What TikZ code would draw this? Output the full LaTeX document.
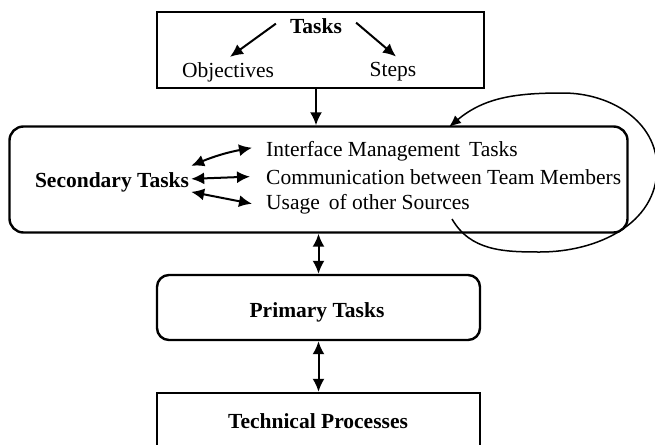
\documentclass[tikz,border=0pt]{standalone}
\usepackage{fontspec}
\setmainfont{Liberation Serif}
\usetikzlibrary{arrows.meta}
\tikzset{
  box/.style={draw, line width=2.4pt, inner sep=0pt},
  rbox/.style={box, rounded corners=14pt},
  txt/.style={inner sep=0pt, font=\fontsize{21.5}{24}\selectfont},
  btxt/.style={inner sep=0pt, font=\fontsize{21.5}{24}\selectfont\bfseries},
  arr/.style={-{Latex[length=13pt,width=12pt]}, line width=2pt},
  dbl/.style={{Latex[length=13pt,width=12pt]}-{Latex[length=13pt,width=12pt]}, line width=2pt},
  loopline/.style={-{Latex[length=12pt,width=10pt]}, line width=1.5pt},
}
\begin{document}
\begin{tikzpicture}[x=1pt,y=-1pt]
\useasboundingbox (0,0) rectangle (655,444);
\clip (0,0) rectangle (655,444);
% boxes
\node[box, minimum width=327pt, minimum height=76pt] (taskbox) at (320.5,50) {};
\node[rbox, minimum width=618pt, minimum height=106pt] (secbox) at (318.5,179.5) {};
\node[rbox, rounded corners=12pt, minimum width=323pt, minimum height=65pt] (primbox) at (318.5,307.5) {};
\node[box, minimum width=323pt, minimum height=54pt] (techbox) at (318.5,420) {};
% texts
\node[btxt, anchor=base] (tasks) at (316,34) {Tasks};
\node[txt, anchor=base] (obj) at (228,77) {Objectives};
\node[txt, anchor=base] (steps) at (393,76) {Steps};
\node[btxt, anchor=base] (sec) at (112,187) {Secondary Tasks};
\node[txt, anchor=base west] (item1) at (266,156) {Interface Management\, Tasks};
\node[txt, anchor=base west] (item2) at (266,184) {Communication between Team Members};
\node[txt, anchor=base west] (item3) at (266,209) {Usage\, of other Sources};
\node[btxt, anchor=base] (prim) at (317,317) {Primary Tasks};
\node[btxt, anchor=base] (tech) at (318,428) {Technical Processes};
\coordinate (ls) at (452,219);
\coordinate (le) at (449,127);
% connectors
\draw[arr] ([xshift=-14pt,yshift=3pt]tasks.west) -- ([xshift=2pt,yshift=5pt]obj.north);
\draw[arr] ([xshift=14pt,yshift=4pt]tasks.east) -- ([xshift=3pt,yshift=5pt]steps.north);
\draw[arr] (taskbox.south -| tasks) -- (secbox.north -| tasks);
\draw[dbl] ([xshift=2pt,yshift=16pt]sec.east) to[bend left=6] ([xshift=-14pt,yshift=3pt]item1.west);
\draw[dbl] ([xshift=2pt,yshift=3pt]sec.east) -- ([xshift=-16pt]item2.west);
\draw[dbl] ([xshift=2pt,yshift=-10pt]sec.east) -- ([xshift=-14pt]item3.west);
\draw[dbl] (secbox.south) -- (primbox.north);
\draw[dbl] (primbox.south) -- (techbox.north);
\draw[loopline] (ls) to[out=-60,in=180] (540,252) to[out=0,in=-90] (657,168)
  to[out=90,in=0] (563,93) to[out=180,in=40] (le);
\end{tikzpicture}
\end{document}
